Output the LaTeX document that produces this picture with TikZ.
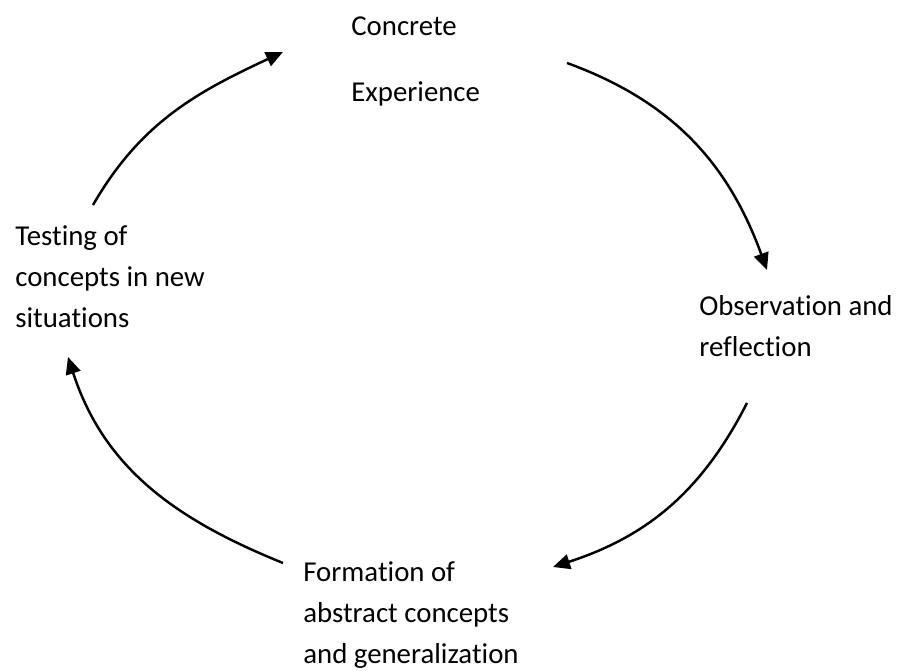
\documentclass[tikz,border=0pt]{standalone}
\usepackage{fontspec}
\setmainfont[Ligatures=NoCommon]{Carlito}
\usetikzlibrary{arrows.meta}

\begin{document}
\begin{tikzpicture}[x=0.02cm,y=0.02cm,
	stage/.style={anchor=base west,inner sep=0pt,align=left,font=\fontsize{16.4}{23.6}\selectfont},
	cycle/.style={line width=1.4pt,-{Triangle[length=0.34cm,width=0.3cm]}}]
	\useasboundingbox (0,0) rectangle (900,671);
	
	% base anchor sits on the last line
	\node[stage] (concrete) at (351,569) {Concrete\\[0.5cm]Experience};
	\node[stage] (observation) at (699,314) {Observation and\\reflection};
	\node[stage] (formation) at (303,7) {Formation of\\abstract concepts\\and generalization};
	\node[stage] (testing) at (15,343) {Testing of\\concepts in new\\situations};
	
	\coordinate (t-out) at (93,466);
	\coordinate (c-in) at (283,619);
	\coordinate (c-out) at (567,608);
	\coordinate (o-in) at (767,401);
	\coordinate (o-out) at (747,268);
	\coordinate (f-in) at (553,104);
	\coordinate (f-out) at (283,108);
	\coordinate (t-in) at (68,314);
	
	\draw[cycle] (t-out) to[out=60,in=205] (c-in);
	\draw[cycle] (c-out) to[out=-20,in=110] (o-in);
	\draw[cycle] (o-out) to[out=-117,in=18] (f-in);
	\draw[cycle] (f-out) to[out=158,in=-72] (t-in);
	
\end{tikzpicture}
\end{document}
